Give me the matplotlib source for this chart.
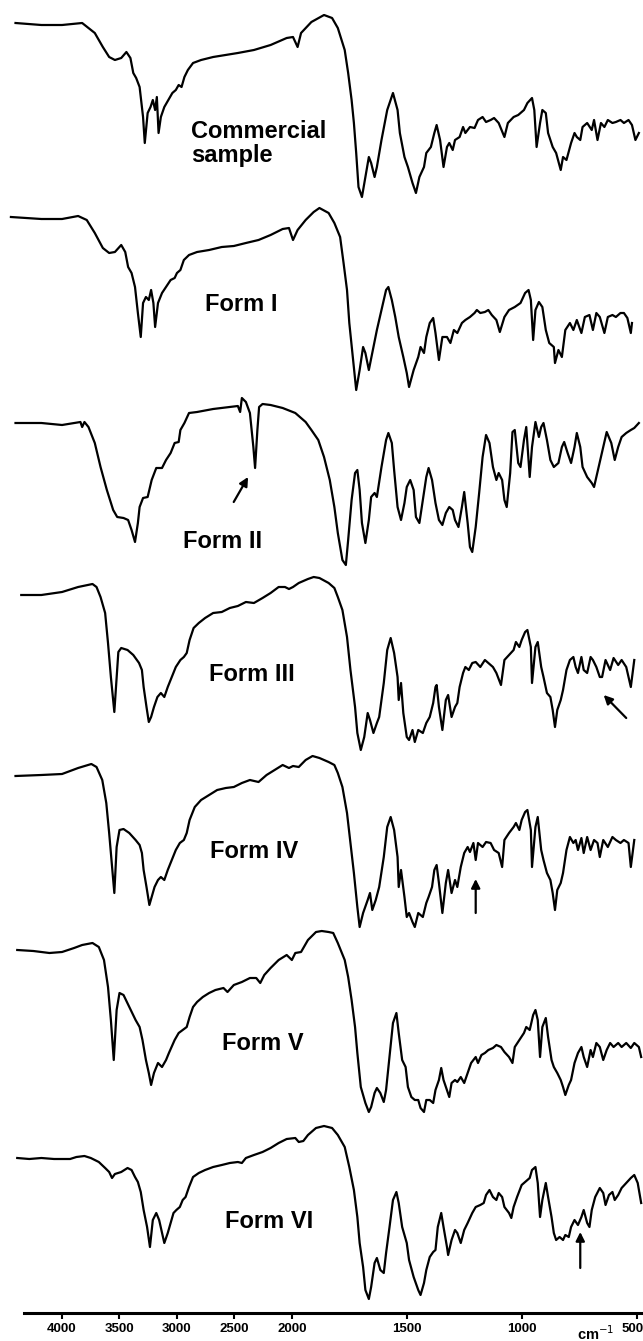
import numpy as np
import matplotlib
matplotlib.use("Agg")
import matplotlib.pyplot as plt
import matplotlib.transforms as mtransforms

plt.rcParams["font.family"] = ["Liberation Sans", "DejaVu Sans"]

# IR spectra: (wavenumber cm-1, transmittance in arbitrary units)
commercial = [
    (4405, 227), (4180, 225), (4000, 225), (3825, 227), (3715, 217), (3645, 203), (3590, 193),
    (3540, 190), (3485, 192), (3440, 198), (3405, 192), (3380, 177), (3355, 172), (3325, 163),
    (3295, 133), (3280, 107), (3255, 137), (3230, 143), (3210, 150), (3190, 140), (3175, 153),
    (3160, 117), (3140, 133), (3110, 143), (3075, 150), (3040, 157), (3010, 160), (2985, 165),
    (2960, 163), (2935, 173), (2905, 180), (2860, 187), (2790, 190), (2685, 193), (2575, 195),
    (2470, 197), (2330, 200), (2185, 205), (2045, 212), (1995, 213), (1975, 203), (1960, 217),
    (1915, 228), (1860, 235), (1825, 232), (1800, 222), (1770, 200), (1755, 177), (1740, 150),
    (1730, 127), (1720, 97), (1710, 63), (1695, 53), (1680, 73), (1665, 93), (1655, 87),
    (1640, 73), (1630, 83), (1610, 110), (1585, 140), (1560, 157), (1540, 140), (1530, 117),
    (1510, 93), (1495, 83), (1475, 67), (1460, 57), (1445, 73), (1425, 83), (1415, 97),
    (1395, 103), (1380, 117), (1370, 125), (1355, 110), (1340, 83), (1325, 103), (1315, 107),
    (1300, 100), (1290, 110), (1270, 113), (1255, 123), (1245, 117), (1225, 123), (1205, 122),
    (1190, 130), (1170, 133), (1155, 128), (1135, 130), (1120, 132), (1100, 127), (1075, 113),
    (1060, 127), (1035, 133), (1015, 135), (990, 140), (975, 147), (955, 152), (945, 140),
    (935, 103), (920, 127), (910, 140), (895, 137), (885, 117), (865, 103), (850, 97),
    (830, 80), (820, 93), (805, 90), (785, 107), (770, 117), (760, 113), (745, 110),
    (735, 123), (715, 127), (695, 120), (685, 130), (670, 110), (655, 127), (640, 123),
    (625, 130), (605, 127), (590, 128), (570, 130), (555, 127), (535, 130), (520, 125),
    (505, 110), (490, 117),
]

form_1 = [
    (4445, 203), (4180, 201), (4000, 201), (3860, 204), (3785, 200), (3715, 187), (3645, 172),
    (3590, 167), (3540, 168), (3485, 175), (3450, 168), (3425, 153), (3395, 147), (3365, 133),
    (3340, 107), (3315, 83), (3295, 117), (3270, 123), (3245, 120), (3225, 130), (3205, 117),
    (3190, 93), (3165, 117), (3130, 127), (3095, 133), (3055, 140), (3020, 142), (3000, 147),
    (2970, 150), (2940, 160), (2895, 165), (2825, 168), (2720, 170), (2610, 173), (2505, 174),
    (2400, 177), (2290, 180), (2185, 185), (2080, 191), (2025, 192), (1995, 180), (1975, 190),
    (1940, 200), (1905, 208), (1880, 212), (1840, 207), (1815, 197), (1790, 183), (1775, 157),
    (1760, 130), (1750, 97), (1735, 63), (1720, 30), (1705, 50), (1690, 73), (1680, 67),
    (1665, 50), (1650, 67), (1630, 90), (1610, 110), (1590, 130), (1580, 133), (1565, 120),
    (1550, 103), (1535, 83), (1515, 63), (1500, 47), (1490, 33), (1470, 50), (1450, 63),
    (1440, 73), (1425, 67), (1415, 83), (1400, 97), (1385, 102), (1375, 87), (1360, 60),
    (1345, 83), (1325, 83), (1310, 77), (1295, 90), (1280, 87), (1260, 97), (1245, 100),
    (1225, 103), (1205, 107), (1195, 110), (1180, 107), (1160, 108), (1145, 110), (1130, 105),
    (1110, 100), (1095, 88), (1075, 103), (1055, 110), (1030, 113), (1005, 117), (985, 127),
    (970, 130), (960, 120), (950, 80), (940, 110), (925, 118), (910, 113), (895, 90),
    (880, 77), (860, 73), (855, 57), (840, 70), (825, 63), (810, 90), (790, 97), (775, 90),
    (760, 100), (740, 87), (725, 103), (705, 105), (690, 90), (675, 107), (660, 103),
    (640, 87), (625, 103), (605, 105), (590, 103), (570, 107), (555, 107), (540, 102),
    (525, 87), (520, 97),
]

form_2 = [
    (4405, 157), (4180, 157), (4000, 155), (3895, 157), (3840, 158), (3825, 153), (3805, 158),
    (3770, 153), (3715, 137), (3665, 113), (3610, 90), (3555, 70), (3520, 63), (3465, 62),
    (3425, 60), (3395, 50), (3365, 38), (3340, 57), (3325, 73), (3295, 82), (3255, 83),
    (3220, 100), (3180, 112), (3130, 112), (3095, 120), (3055, 127), (3020, 137), (2985, 138),
    (2970, 150), (2935, 157), (2895, 167), (2825, 168), (2685, 171), (2540, 173), (2470, 174),
    (2450, 168), (2435, 182), (2400, 178), (2365, 167), (2335, 133), (2320, 112), (2300, 150),
    (2285, 173), (2255, 176), (2185, 175), (2080, 172), (1985, 167), (1940, 158), (1915, 150),
    (1885, 140), (1860, 123), (1835, 100), (1815, 73), (1800, 47), (1780, 20), (1765, 15),
    (1755, 40), (1740, 80), (1725, 107), (1715, 110), (1705, 90), (1695, 57), (1680, 37),
    (1665, 60), (1655, 83), (1640, 87), (1630, 83), (1610, 113), (1590, 140), (1580, 147),
    (1565, 137), (1555, 110), (1540, 73), (1525, 60), (1510, 77), (1500, 93), (1485, 100),
    (1470, 90), (1460, 63), (1445, 57), (1430, 80), (1415, 103), (1405, 112), (1390, 100),
    (1375, 77), (1360, 60), (1345, 55), (1330, 67), (1315, 73), (1300, 70), (1290, 60),
    (1275, 53), (1260, 73), (1250, 88), (1235, 57), (1225, 33), (1215, 28), (1200, 53),
    (1185, 87), (1170, 123), (1155, 145), (1140, 137), (1125, 113), (1110, 100), (1100, 107),
    (1085, 100), (1075, 80), (1065, 73), (1050, 107), (1040, 148), (1030, 150), (1015, 117),
    (1005, 113), (990, 140), (980, 153), (965, 103), (955, 133), (940, 158), (925, 143),
    (915, 153), (905, 157), (890, 140), (875, 120), (860, 113), (840, 117), (825, 133),
    (815, 138), (800, 127), (785, 117), (770, 133), (760, 147), (745, 133), (735, 113),
    (715, 103), (695, 97), (685, 93), (665, 113), (645, 133), (630, 148), (610, 137),
    (595, 120), (580, 133), (565, 143), (545, 147), (525, 150), (510, 152), (490, 157),
]

form_3 = [
    (4355, 165), (4180, 165), (4000, 168), (3860, 173), (3735, 176), (3700, 173), (3665, 163),
    (3625, 147), (3600, 117), (3575, 83), (3555, 60), (3545, 48), (3525, 83), (3510, 108),
    (3485, 112), (3430, 110), (3380, 105), (3330, 97), (3305, 90), (3290, 73), (3265, 53),
    (3245, 38), (3225, 43), (3200, 53), (3170, 63), (3140, 67), (3110, 63), (3080, 73),
    (3045, 83), (3010, 93), (2970, 100), (2940, 103), (2915, 107), (2890, 120), (2855, 132),
    (2810, 137), (2755, 142), (2685, 147), (2610, 148), (2540, 152), (2470, 154), (2400, 158),
    (2330, 157), (2255, 162), (2185, 167), (2115, 173), (2060, 173), (2025, 171), (1995, 173),
    (1970, 177), (1930, 181), (1905, 183), (1880, 182), (1840, 177), (1815, 172), (1800, 163),
    (1780, 150), (1760, 123), (1745, 90), (1725, 53), (1715, 27), (1700, 10), (1685, 23),
    (1670, 47), (1660, 40), (1645, 27), (1630, 37), (1620, 43), (1600, 77), (1585, 110),
    (1570, 122), (1555, 107), (1540, 83), (1535, 60), (1525, 77), (1515, 47), (1500, 23),
    (1490, 20), (1475, 30), (1465, 18), (1450, 30), (1430, 27), (1415, 37), (1400, 43),
    (1385, 57), (1375, 73), (1370, 75), (1360, 53), (1345, 30), (1330, 60), (1320, 65),
    (1305, 43), (1290, 53), (1280, 57), (1270, 73), (1255, 87), (1245, 93), (1230, 90),
    (1215, 97), (1200, 98), (1180, 93), (1160, 100), (1145, 97), (1125, 93), (1110, 87),
    (1090, 75), (1075, 100), (1055, 105), (1035, 110), (1025, 118), (1010, 113), (1000, 120),
    (985, 128), (975, 130), (960, 113), (955, 77), (940, 113), (930, 118), (915, 93),
    (905, 83), (890, 67), (875, 63), (865, 50), (855, 33), (845, 50), (830, 60), (820, 70),
    (805, 90), (790, 100), (775, 103), (765, 93), (755, 87), (740, 103), (730, 90),
    (715, 87), (700, 103), (690, 100), (675, 93), (660, 83), (650, 83), (635, 100),
    (615, 90), (600, 102), (580, 95), (565, 100), (545, 93), (525, 73), (510, 100),
]

form_4 = [
    (4405, 204), (4180, 205), (4000, 206), (3860, 212), (3745, 216), (3700, 213), (3650, 200),
    (3615, 177), (3590, 147), (3565, 113), (3545, 87), (3525, 133), (3500, 150), (3465, 151),
    (3415, 147), (3360, 140), (3325, 135), (3305, 127), (3290, 110), (3265, 93), (3240, 75),
    (3220, 83), (3195, 93), (3165, 100), (3140, 103), (3110, 100), (3080, 110), (3045, 120),
    (3010, 130), (2975, 137), (2940, 140), (2915, 147), (2890, 160), (2845, 173), (2790, 180),
    (2720, 185), (2650, 190), (2575, 192), (2505, 193), (2435, 197), (2365, 200), (2290, 198),
    (2220, 205), (2150, 210), (2080, 215), (2025, 212), (1995, 214), (1970, 213), (1940, 220),
    (1910, 224), (1880, 222), (1840, 218), (1815, 215), (1800, 207), (1780, 193), (1760, 167),
    (1745, 137), (1730, 107), (1715, 73), (1705, 53), (1690, 67), (1670, 80), (1660, 87),
    (1650, 70), (1635, 80), (1620, 93), (1600, 123), (1585, 153), (1570, 163), (1555, 150),
    (1540, 123), (1535, 93), (1525, 110), (1510, 83), (1500, 63), (1490, 67), (1475, 58),
    (1465, 53), (1450, 67), (1430, 63), (1415, 77), (1405, 83), (1390, 93), (1380, 110),
    (1370, 115), (1360, 97), (1345, 67), (1330, 97), (1320, 110), (1305, 87), (1290, 100),
    (1280, 93), (1265, 113), (1250, 127), (1235, 133), (1225, 128), (1210, 137), (1200, 120),
    (1190, 137), (1170, 133), (1155, 138), (1135, 137), (1120, 130), (1100, 127), (1085, 113),
    (1075, 140), (1055, 147), (1035, 153), (1025, 157), (1010, 150), (1000, 160), (985, 168),
    (975, 170), (960, 150), (955, 113), (940, 153), (930, 163), (915, 130), (905, 120),
    (890, 107), (875, 100), (865, 87), (855, 70), (845, 90), (830, 97), (820, 107),
    (805, 130), (790, 143), (775, 137), (765, 140), (755, 130), (740, 142), (730, 127),
    (715, 143), (700, 130), (685, 140), (670, 137), (660, 123), (645, 140), (625, 133),
    (605, 143), (590, 140), (570, 137), (555, 140), (535, 137), (525, 113), (510, 140),
]

form_5 = [
    (4390, 190), (4250, 189), (4110, 187), (4000, 188), (3895, 192), (3825, 195), (3735, 197),
    (3680, 193), (3635, 180), (3600, 153), (3575, 120), (3550, 80), (3525, 130), (3500, 147),
    (3465, 145), (3415, 133), (3360, 120), (3325, 113), (3300, 100), (3270, 80), (3245, 67),
    (3225, 55), (3200, 67), (3165, 77), (3130, 73), (3095, 80), (3070, 87), (3020, 100),
    (2985, 107), (2950, 110), (2915, 113), (2890, 123), (2860, 133), (2825, 138), (2775, 143),
    (2720, 147), (2665, 150), (2595, 152), (2560, 148), (2505, 155), (2435, 158), (2365, 162),
    (2310, 162), (2275, 157), (2240, 165), (2185, 172), (2115, 180), (2045, 185), (2000, 180),
    (1985, 187), (1960, 188), (1930, 200), (1895, 208), (1870, 209), (1840, 208), (1820, 207),
    (1800, 197), (1770, 180), (1755, 163), (1740, 140), (1725, 113), (1715, 87), (1700, 53),
    (1680, 37), (1665, 28), (1655, 33), (1640, 47), (1630, 52), (1615, 47), (1600, 38),
    (1590, 50), (1575, 83), (1560, 117), (1545, 127), (1535, 107), (1520, 80), (1505, 73),
    (1495, 53), (1480, 43), (1465, 40), (1450, 40), (1440, 32), (1425, 28), (1415, 40),
    (1400, 40), (1385, 37), (1375, 50), (1360, 60), (1350, 72), (1340, 60), (1325, 50),
    (1315, 43), (1305, 57), (1290, 60), (1280, 58), (1265, 63), (1250, 57), (1235, 67),
    (1220, 77), (1200, 83), (1190, 77), (1175, 85), (1160, 87), (1145, 90), (1125, 92),
    (1110, 95), (1090, 93), (1075, 88), (1055, 83), (1040, 77), (1030, 93), (1010, 100),
    (990, 107), (980, 113), (965, 110), (950, 125), (940, 130), (930, 120), (920, 83),
    (910, 113), (895, 122), (885, 103), (870, 80), (860, 73), (845, 67), (830, 60),
    (820, 53), (810, 45), (795, 55), (785, 60), (770, 77), (755, 87), (740, 93), (730, 83),
    (715, 73), (700, 90), (690, 83), (675, 97), (660, 93), (645, 80), (630, 90), (615, 97),
    (600, 93), (580, 97), (565, 93), (545, 97), (525, 92), (510, 97), (490, 93), (480, 83),
]

form_6 = [
    (4390, 172), (4285, 171), (4180, 172), (4070, 171), (3930, 171), (3875, 173), (3805, 174),
    (3750, 172), (3680, 168), (3625, 162), (3590, 158), (3565, 152), (3540, 156), (3485, 158),
    (3430, 162), (3395, 160), (3365, 153), (3340, 148), (3315, 138), (3290, 120), (3260, 103),
    (3235, 83), (3210, 110), (3180, 117), (3155, 110), (3130, 97), (3110, 87), (3080, 97),
    (3055, 107), (3030, 117), (3005, 120), (2975, 123), (2950, 130), (2925, 133), (2895, 143),
    (2860, 153), (2810, 157), (2755, 160), (2685, 163), (2610, 165), (2540, 167), (2470, 168),
    (2435, 167), (2400, 172), (2330, 175), (2255, 178), (2185, 182), (2115, 187), (2045, 191),
    (1985, 192), (1970, 188), (1950, 189), (1930, 195), (1895, 202), (1860, 204), (1825, 202),
    (1800, 195), (1770, 183), (1750, 163), (1730, 140), (1715, 113), (1705, 87), (1690, 63),
    (1680, 40), (1665, 31), (1655, 43), (1640, 67), (1630, 72), (1615, 60), (1600, 57),
    (1590, 77), (1575, 103), (1560, 130), (1545, 138), (1535, 127), (1520, 103), (1500, 87),
    (1490, 70), (1470, 53), (1450, 40), (1440, 35), (1425, 47), (1415, 60), (1400, 73),
    (1385, 78), (1375, 80), (1365, 103), (1350, 117), (1340, 103), (1325, 83), (1320, 75),
    (1305, 90), (1290, 100), (1280, 97), (1265, 87), (1250, 100), (1235, 107), (1215, 117),
    (1200, 123), (1180, 125), (1165, 127), (1155, 135), (1140, 140), (1125, 133), (1110, 130),
    (1100, 137), (1085, 133), (1075, 123), (1055, 117), (1045, 112), (1035, 123), (1020, 133),
    (1000, 145), (985, 148), (965, 152), (955, 160), (940, 163), (930, 147), (920, 113),
    (910, 130), (895, 147), (885, 133), (870, 113), (860, 97), (850, 90), (835, 93),
    (820, 90), (810, 95), (795, 93), (785, 103), (770, 110), (755, 105), (740, 113),
    (730, 120), (715, 107), (705, 103), (695, 120), (680, 133), (660, 142), (645, 137),
    (635, 125), (620, 135), (605, 138), (595, 130), (580, 135), (565, 142), (545, 147),
    (525, 152), (510, 155), (495, 147), (480, 127),
]

spectra = [commercial, form_1, form_2, form_3, form_4, form_5, form_6]
names = ["Commercial\nsample", "Form I", "Form II", "Form III", "Form IV", "Form V", "Form VI"]
tick_values = [4000, 3500, 3000, 2500, 2000, 1500, 1000, 500]
tick_labels = ["4000", "3500", "3000", "2500", "2000", "1500", "1000", "500"]

# layout: vertical stacking offsets, label anchors (cm-1, y) and arrow (tail, head)
offsets = [1063, 893, 733, 553, 333, 173, -17]
label_pos = [(2880, 1193), (2755, 1020), (2950, 783), (2720, 650), (2710, 473), (2610, 281), (2585, 103)]
arrows = [((2506, 811), (2381, 836)), ((545, 595), (643, 618)),
          ((1200, 400), (1200, 434)), ((745, 45), (745, 81))]


# FTIR axis: scale doubles below 2000 cm-1
def fwd(x):
    x = np.asarray(x, dtype=float)
    return np.where(x >= 2000, x, 2 * x - 2000)


def inv(y):
    y = np.asarray(y, dtype=float)
    return np.where(y >= 2000, y, (y + 2000) / 2)


fig = plt.figure(figsize=(6.43, 13.41), dpi=100)
ax = fig.add_axes([0, 28 / 1341, 1, 1313 / 1341])
ax.set_xscale("function", functions=(fwd, inv))
ax.set_xlim(4540, 472)
ax.set_ylim(0, 1313)

for spec, off in zip(spectra, offsets):
    wn, t = zip(*spec)
    ax.plot(wn, np.array(t) + off, color="black", lw=1.6, solid_joinstyle="round")

for name, (x, y) in zip(names, label_pos):
    ax.text(x, y, name, fontsize=17, fontweight="bold", ha="left", va="top", linespacing=1.05)

for tail, head in arrows:
    ax.annotate("", xy=head, xytext=tail,
                arrowprops=dict(arrowstyle="-|>", color="black", lw=1.6,
                                mutation_scale=13, shrinkA=0, shrinkB=0))

ax.set_xticks(tick_values)
ax.set_xticklabels(tick_labels, fontsize=9.5, fontweight="bold")
ax.xaxis.set_minor_locator(plt.NullLocator())
ax.tick_params(axis="x", direction="out", length=4, width=1.5, pad=3)
ax.set_yticks([])
for s in ["top", "left", "right"]:
    ax.spines[s].set_visible(False)
ax.spines["bottom"].set_linewidth(2.2)
ax.spines["bottom"].set_bounds(4330, 472)

# last label sits at the right edge: keep it inside the figure
last = ax.get_xticklabels()[-1]
last.set_horizontalalignment("right")
last.set_transform(last.get_transform() + mtransforms.ScaledTranslation(5 / 72, 0, fig.dpi_scale_trans))

ax.text(760, -27, "cm$^{-1}$", fontsize=10.5, fontweight="bold", ha="left", va="baseline")

fig.savefig("out.png", dpi=100)
